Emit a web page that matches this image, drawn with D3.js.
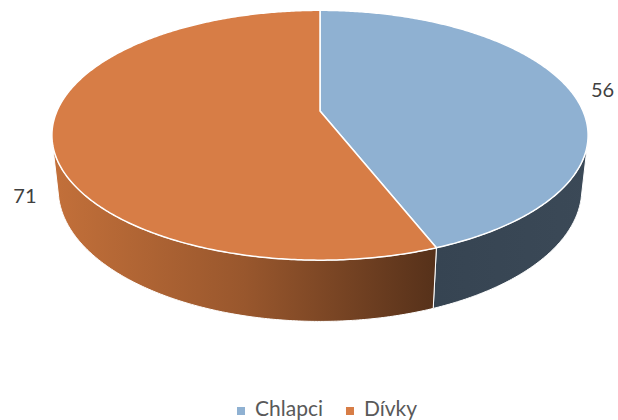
<!DOCTYPE html>
<html>
<head>
<meta charset="utf-8">
<script src="https://cdn.jsdelivr.net/npm/d3@7/dist/d3.min.js"></script>
<style>
  html, body { margin: 0; padding: 0; background: #fff; }
  svg { display: block; }
  text { font-family: Lato, "Open Sans", sans-serif; }
</style>
</head>
<body>
<svg id="chart" width="618" height="420"></svg>
<script>
// ---- data ----
const categories = ["Chlapci", "Dívky"];
const values = [56, 71];

// ---- style / 3D projection parameters ----
const topColors = ["#8FB1D2", "#D77D46"];
const cx0 = 320, cy0 = 111;      // projected centre
const R = 263;                   // disk radius
const phi = 27.2 * Math.PI / 180; // elevation
const D = 1206;                  // camera distance
const h = 61;                    // pie thickness
const sPhi = Math.sin(phi), cPhi = Math.cos(phi);

// project a point on the pie (angle a, d3 convention; radius fraction r; height zw)
function proj(a, r, zw) {
  const X = R * r * Math.sin(a);
  const Yw = -R * r * Math.cos(a);
  const sy = Yw * sPhi - zw * cPhi;
  const z = D - Yw * cPhi - zw * sPhi;
  const f = D / z;
  return [cx0 + X * f, cy0 + sy * f];
}

const svg = d3.select("#chart");
const defs = svg.append("defs");

const gradOrange = defs.append("linearGradient")
  .attr("id", "gOrange").attr("gradientUnits", "userSpaceOnUse")
  .attr("x1", 52).attr("x2", 436).attr("y1", 0).attr("y2", 0);
gradOrange.append("stop").attr("offset", 0).attr("stop-color", "#C3703A");
gradOrange.append("stop").attr("offset", 0.5).attr("stop-color", "#99572D");
gradOrange.append("stop").attr("offset", 1).attr("stop-color", "#56311A");

const gradBlue = defs.append("linearGradient")
  .attr("id", "gBlue").attr("gradientUnits", "userSpaceOnUse")
  .attr("x1", 436).attr("x2", 590).attr("y1", 0).attr("y2", 0);
gradBlue.append("stop").attr("offset", 0).attr("stop-color", "#364452");
gradBlue.append("stop").attr("offset", 1).attr("stop-color", "#3B4957");

const wallFills = ["url(#gBlue)", "url(#gOrange)"];

const pie = d3.pie().sort(null).value(d => d);
const arcsData = pie(values);
const line = d3.line();

function samples(a1, a2) {
  const n = Math.max(2, Math.ceil((a2 - a1) / 0.01));
  return d3.range(n + 1).map(k => a1 + (a2 - a1) * k / n);
}

// visible wall: between the silhouette angles
const sil = Math.acos(R / (D * cPhi));
const wallMin = Math.PI - sil, wallMax = Math.PI + sil;

const wallG = svg.append("g");
arcsData.forEach((d, i) => {
  const a1 = Math.max(d.startAngle, wallMin);
  const a2 = Math.min(d.endAngle, wallMax);
  if (a2 <= a1) return;
  const angs = samples(a1, a2);
  const pts = angs.map(a => proj(a, 1, 0))
    .concat(angs.slice().reverse().map(a => proj(a, 1, -h)));
  wallG.append("path")
    .attr("d", line(pts) + "Z")
    .attr("fill", wallFills[i])
    .attr("stroke", "#ffffff")
    .attr("stroke-width", 1)
    .attr("stroke-linejoin", "round");
});

// top faces
const topG = svg.append("g");
arcsData.forEach((d, i) => {
  const pts = [proj(0, 0, 0)].concat(samples(d.startAngle, d.endAngle).map(a => proj(a, 1, 0)));
  topG.append("path")
    .attr("d", line(pts) + "Z")
    .attr("fill", topColors[i])
    .attr("stroke", "#ffffff")
    .attr("stroke-width", 1.5)
    .attr("stroke-linejoin", "round");
});

// data labels
const labelOffsets = [[33, -1], [-27, 61]];
arcsData.forEach((d, i) => {
  const mid = (d.startAngle + d.endAngle) / 2;
  const p = proj(mid, 1, 0);
  svg.append("text")
    .attr("x", p[0] + labelOffsets[i][0]).attr("y", p[1] + labelOffsets[i][1])
    .attr("text-anchor", "middle")
    .attr("dominant-baseline", "central")
    .attr("font-size", 20)
    .attr("fill", "#404040")
    .text(values[i]);
});

// legend
const legend = svg.append("g").attr("transform", "translate(237,416)");
let lx = 0;
categories.forEach((c, i) => {
  const g = legend.append("g").attr("transform", `translate(${lx},0)`);
  g.append("rect").attr("x", 0).attr("y", -9).attr("width", 8).attr("height", 8)
    .attr("fill", topColors[i]);
  const t = g.append("text").attr("x", 18).attr("y", 0)
    .attr("font-size", 21).attr("fill", "#595959").text(c);
  lx += 18 + t.node().getComputedTextLength() + 23;
});
</script>
</body>
</html>
